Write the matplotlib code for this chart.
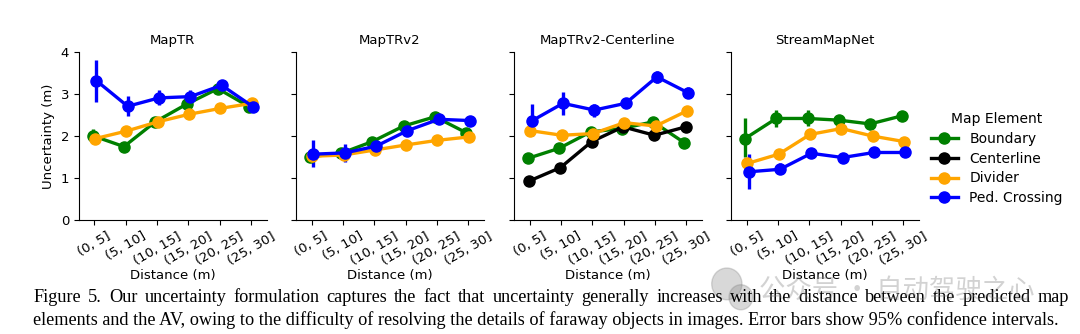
import matplotlib.pyplot as plt
from matplotlib.patches import Ellipse
import numpy as np

# bins on the x axis
distance_bins = ['(0, 5]', '(5, 10]', '(10, 15]', '(15, 20]', '(20, 25]', '(25, 30]']
models = ['MapTR', 'MapTRv2', 'MapTRv2-Centerline', 'StreamMapNet']
elements = ['Boundary', 'Centerline', 'Divider', 'Ped. Crossing']
colors = {'Boundary': 'green', 'Centerline': 'black', 'Divider': 'orange', 'Ped. Crossing': 'blue'}

# mean uncertainty (m) per model / element
maptr_boundary = [2.01, 1.75, 2.34, 2.76, 3.13, 2.70]
maptr_divider = [1.94, 2.12, 2.34, 2.52, 2.66, 2.78]
maptr_ped = [3.32, 2.71, 2.91, 2.94, 3.21, 2.70]

maptrv2_boundary = [1.51, 1.59, 1.87, 2.24, 2.46, 2.08]
maptrv2_divider = [1.52, 1.55, 1.67, 1.79, 1.90, 1.98]
maptrv2_ped = [1.57, 1.60, 1.76, 2.13, 2.40, 2.37]

cl_boundary = [1.47, 1.71, 2.10, 2.18, 2.34, 1.84]
cl_centerline = [0.93, 1.25, 1.87, 2.22, 2.02, 2.22]
cl_divider = [2.13, 2.02, 2.06, 2.32, 2.24, 2.60]
cl_ped = [2.36, 2.78, 2.62, 2.78, 3.41, 3.03]

smn_boundary = [1.94, 2.42, 2.42, 2.38, 2.29, 2.48]
smn_divider = [1.35, 1.57, 2.04, 2.18, 2.00, 1.87]
smn_ped = [1.15, 1.21, 1.59, 1.49, 1.61, 1.61]

# 95% CI half widths (lower, upper)
maptr_boundary_err = [[0.14, 0.05, 0.05, 0.05, 0.05, 0.05], [0.17, 0.05, 0.05, 0.05, 0.05, 0.05]]
maptr_divider_err = [[0.04] * 6, [0.04] * 6]
maptr_ped_err = [[0.50, 0.23, 0.17, 0.15, 0.10, 0.05], [0.49, 0.25, 0.19, 0.16, 0.12, 0.05]]

maptrv2_boundary_err = [[0.05] * 6, [0.05] * 6]
maptrv2_divider_err = [[0.03] * 6, [0.03] * 6]
maptrv2_ped_err = [[0.30, 0.21, 0.05, 0.05, 0.05, 0.05], [0.33, 0.21, 0.05, 0.05, 0.05, 0.05]]

cl_boundary_err = [[0.05] * 6, [0.05] * 6]
cl_centerline_err = [[0.04] * 6, [0.04] * 6]
cl_divider_err = [[0.04] * 6, [0.04] * 6]
cl_ped_err = [[0.36, 0.28, 0.16, 0.08, 0.14, 0.13], [0.40, 0.28, 0.14, 0.08, 0.15, 0.13]]

smn_boundary_err = [[0.43, 0.21, 0.18, 0.06, 0.06, 0.06], [0.50, 0.20, 0.20, 0.06, 0.06, 0.06]]
smn_divider_err = [[0.04] * 6, [0.04] * 6]
smn_ped_err = [[0.40, 0.12, 0.05, 0.05, 0.05, 0.05], [0.42, 0.14, 0.05, 0.05, 0.05, 0.05]]

panels = {
    'MapTR': {'Boundary': (maptr_boundary, maptr_boundary_err),
              'Divider': (maptr_divider, maptr_divider_err),
              'Ped. Crossing': (maptr_ped, maptr_ped_err)},
    'MapTRv2': {'Boundary': (maptrv2_boundary, maptrv2_boundary_err),
                'Divider': (maptrv2_divider, maptrv2_divider_err),
                'Ped. Crossing': (maptrv2_ped, maptrv2_ped_err)},
    'MapTRv2-Centerline': {'Boundary': (cl_boundary, cl_boundary_err),
                           'Centerline': (cl_centerline, cl_centerline_err),
                           'Divider': (cl_divider, cl_divider_err),
                           'Ped. Crossing': (cl_ped, cl_ped_err)},
    'StreamMapNet': {'Boundary': (smn_boundary, smn_boundary_err),
                     'Divider': (smn_divider, smn_divider_err),
                     'Ped. Crossing': (smn_ped, smn_ped_err)},
}
dodge = {'Boundary': -0.06, 'Centerline': -0.02, 'Divider': 0.02, 'Ped. Crossing': 0.06}

fig = plt.figure(figsize=(10.8, 3.34), dpi=100)
lefts = [0.073, 0.274, 0.476, 0.677]
x = np.arange(len(distance_bins))

for i, model in enumerate(models):
    ax = fig.add_axes([lefts[i], 0.341, 0.174, 0.503])
    for el in elements:
        if el not in panels[model]:
            continue
        vals, err = panels[model][el]
        ax.errorbar(x + dodge[el], vals, yerr=err, color=colors[el], marker='o',
                    markersize=8, linewidth=2.4, elinewidth=2.4, capsize=0, label=el)
    ax.set_xlim(-0.5, 5.5)
    ax.set_ylim(0, 4)
    ax.set_yticks([0, 1, 2, 3, 4])
    ax.set_xticks(x)
    ax.set_xticklabels(distance_bins, rotation=30, fontsize=9.5)
    ax.set_title(model, fontsize=9.5)
    ax.set_xlabel('Distance (m)', fontsize=9.5, labelpad=1)
    ax.tick_params(labelsize=9.5, length=3.5)
    for s in ['top', 'right']:
        ax.spines[s].set_visible(False)
    if i == 0:
        ax.set_ylabel('Uncertainty (m)', fontsize=9.5)
    else:
        ax.set_yticklabels([])

# legend with all four elements
handles = [plt.Line2D([], [], color=colors[el], marker='o', markersize=8, linewidth=2.4) for el in elements]
fig.legend(handles, elements, title='Map Element', loc='center left', bbox_to_anchor=(0.85, 0.525),
           frameon=False, fontsize=10, title_fontsize=10, handlelength=2.0, labelspacing=0.42)

# caption, first line justified to the full width
cap1 = 'Figure 5. Our uncertainty formulation captures the fact that uncertainty generally increases with the distance between the predicted map'
cap2 = 'elements and the AV, owing to the difficulty of resolving the details of faraway objects in images. Error bars show 95% confidence intervals.'
cap_left, cap_right = 0.031, 0.990
renderer = fig.canvas.get_renderer()
words = cap1.split(' ')
word_texts = [fig.text(0, 0.108, w, family='Liberation Serif', fontsize=13.15, va='center', ha='left') for w in words]
widths = [t.get_window_extent(renderer).width / fig.bbox.width for t in word_texts]
gap = (cap_right - cap_left - sum(widths)) / (len(words) - 1)
pos = cap_left
for t, w in zip(word_texts, widths):
    t.set_x(pos)
    pos += w + gap
fig.text(cap_left, 0.043, cap2, family='Liberation Serif', fontsize=13.15, va='center', ha='left')

# watermark
fig.patches.append(Ellipse((0.673, 0.15), 0.028, 0.095, transform=fig.transFigure, color='gray', alpha=0.3))
fig.patches.append(Ellipse((0.686, 0.11), 0.022, 0.075, transform=fig.transFigure, color='gray', alpha=0.3))
fig.text(0.703, 0.13, '公众号 · 自动驾驶之心', family=['Noto Sans CJK SC', 'DejaVu Sans'],
         fontsize=19, color='gray', alpha=0.35, va='center', ha='left')

plt.savefig('out.png', dpi=100)
